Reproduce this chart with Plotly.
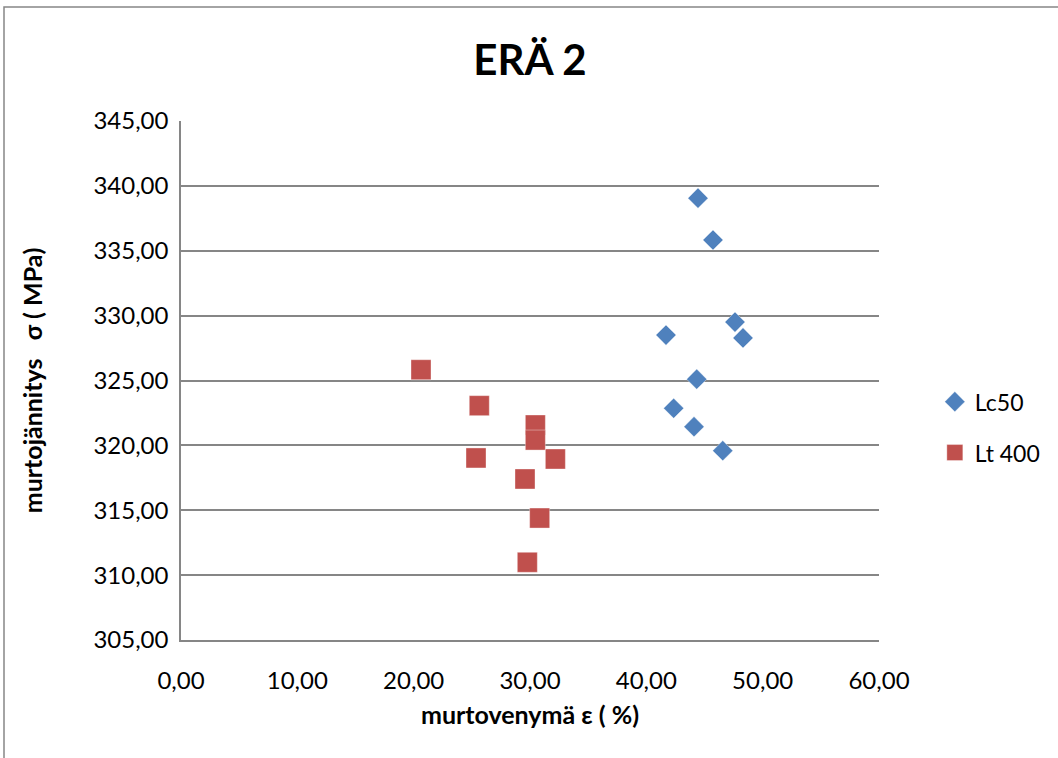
import plotly.graph_objects as go

lc50_x = [44.44, 45.73, 41.69, 47.62, 48.31, 44.33, 42.35, 44.10, 46.57]
lc50_y = [339.05, 335.83, 328.50, 329.50, 328.28, 325.10, 322.86, 321.44, 319.59]

lt400_x = [20.63, 25.64, 30.46, 30.46, 25.36, 32.18, 29.57, 30.83, 29.77]
lt400_y = [325.83, 323.06, 321.57, 320.41, 319.03, 318.95, 317.41, 314.40, 310.99]

title_text = "ERÄ 2"
x_title = "murtovenymä ε ( %)"
y_title = "murtojännitys\u00a0\u00a0\u00a0σ ( MPa)"

FONT = "Lato"
GRID = "#868686"

fig = go.Figure()
fig.add_trace(go.Scatter(
    x=lc50_x, y=lc50_y, mode="markers", name="Lc50", legendgroup="a",
    marker=dict(symbol="diamond", size=15.5, color="#4F81BD",
                line=dict(width=0.6, color="rgba(255,255,255,0.6)"))))
fig.add_trace(go.Scatter(
    x=lt400_x, y=lt400_y, mode="markers", name="Lt 400", legendgroup="b",
    marker=dict(symbol="square", size=20, color="#C0504D",
                line=dict(width=0.6, color="rgba(255,255,255,0.6)"))))

fig.update_layout(
    width=1058, height=758,
    margin=dict(l=181, r=179, t=121, b=118),
    paper_bgcolor="white", plot_bgcolor="white",
    font=dict(family=FONT, color="black", size=24),
    title=dict(text="<b>%s</b>" % title_text, x=0.5, xref="paper",
               y=1 - 60 / 758, yanchor="middle",
               font=dict(family=FONT, size=42, color="black")),
    separators=",.",
    xaxis=dict(range=[0, 60], dtick=10, tickformat=".2f",
               showgrid=False, zeroline=False,
               showline=True, linecolor=GRID, linewidth=1.5,
               ticks="", tickfont=dict(size=24), ticklabelstandoff=18,
               title=dict(text="<b>%s</b>" % x_title, font=dict(size=25), standoff=14)),
    yaxis=dict(range=[305, 345], dtick=5, tickformat=".2f",
               showgrid=True, gridcolor=GRID, gridwidth=1.5,
               zeroline=False, showline=True, linecolor=GRID, linewidth=1.5,
               ticks="", tickfont=dict(size=24), ticklabelstandoff=6,
               title=dict(text="<b>%s</b>" % y_title, font=dict(size=25), standoff=44)),
    legend=dict(x=1.08, y=0.41, xanchor="left", yanchor="middle",
                font=dict(size=23), tracegroupgap=18,
                bgcolor="rgba(0,0,0,0)"),
    shapes=[dict(type="rect", xref="paper", yref="paper",
                 x0=(4 - 181) / 698, x1=1.5, y0=-0.5, y1=(640 - 7) / 519,
                 line=dict(color=GRID, width=1.5), fillcolor="rgba(0,0,0,0)",
                 layer="below")],
)

fig.write_html("out.html")
